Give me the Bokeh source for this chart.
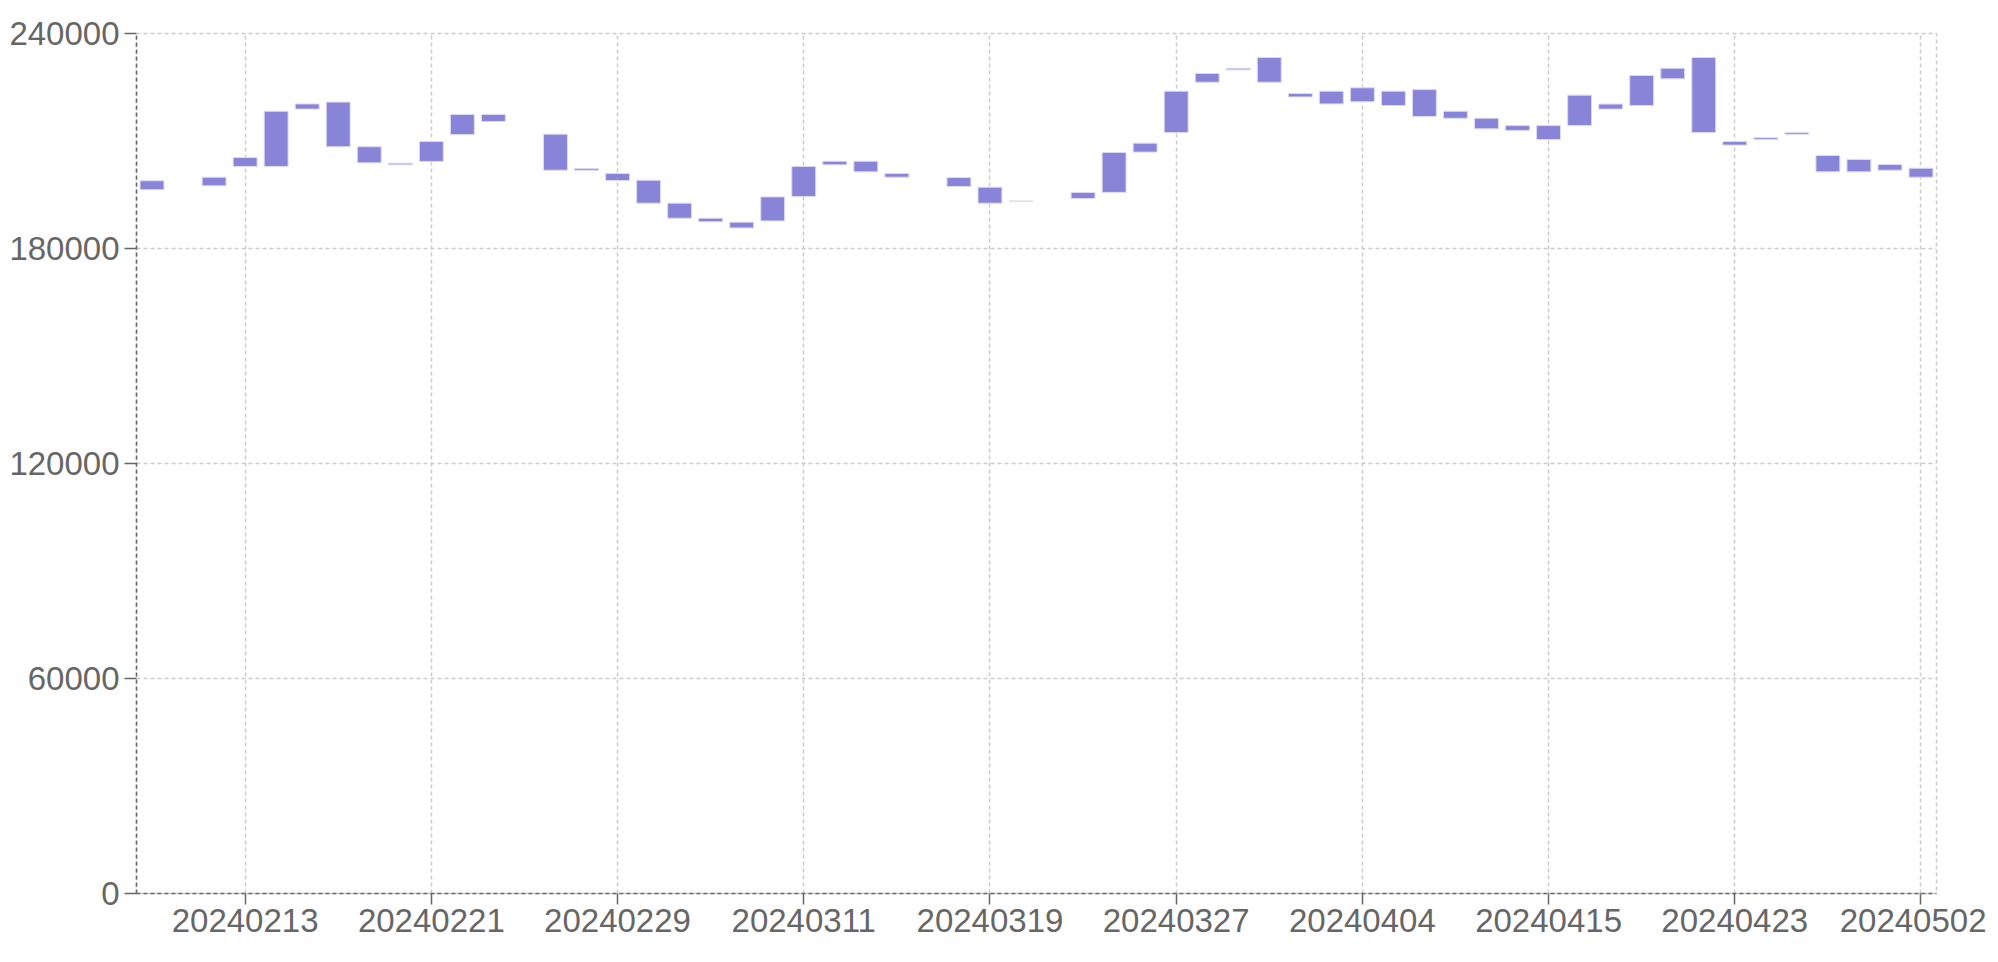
from bokeh.plotting import figure
from bokeh.models import Range1d, FixedTicker, ColumnDataSource
from bokeh.embed import file_html
from bokeh.resources import INLINE

# ---- data ----
dates = [
    "20240208", "20240209", "20240212", "20240213", "20240214", "20240215", "20240216",
    "20240219", "20240220", "20240221", "20240222", "20240223", "20240226", "20240227",
    "20240228", "20240229", "20240301", "20240305", "20240306", "20240307", "20240308",
    "20240311", "20240312", "20240313", "20240314", "20240315", "20240318", "20240319",
    "20240320", "20240321", "20240322", "20240325", "20240326", "20240327", "20240328",
    "20240329", "20240401", "20240402", "20240403", "20240404", "20240408", "20240409",
    "20240410", "20240411", "20240412", "20240415", "20240416", "20240417", "20240418",
    "20240419", "20240422", "20240423", "20240424", "20240425", "20240426", "20240429",
    "20240430", "20240502",
]

bar_low = [
    196400, None, 197500, 202900, 202900, 218900, 208400, 203900, 203350, 204300,
    211800, 215450, None, 201850, 201850, 198950, 192650, 188450, 187450, 185750,
    187700, 194500, 203350, 201400, 199900, None, 197300, 192650, 193200, None,
    193950, 195650, 206900, 212350, 226400, 229850, 226400, 222300, 220350, 220950,
    219900, 216850, 216350, 213400, 212950, 210400, 214300, 218900, 219900, 227350,
    212350, 208850, 210400, 211900, 201400, 201400, 201850, 199900,
]

bar_high = [
    198900, None, 199900, 205400, 218300, 220350, 220850, 208400, 203800, 209850,
    217400, 217400, None, 211900, 202300, 200950, 199050, 192650, 188450, 187350,
    194400, 202900, 204350, 204350, 200950, None, 199800, 197100, 193200, None,
    195650, 206800, 209400, 223900, 228850, 230300, 233300, 223250, 223900, 224850,
    223900, 224350, 218300, 216350, 214300, 214300, 222800, 220300, 228300, 230300,
    233300, 209850, 210900, 212350, 205950, 204850, 203450, 202400,
]

y_ticks = [0, 60000, 120000, 180000, 240000]
label_every = 6
label_start = 3

# ---- prepare ----
idx = [i for i in range(len(dates)) if bar_low[i] is not None]
src = ColumnDataSource(dict(
    x=idx,
    bottom=[bar_low[i] for i in idx],
    top=[bar_high[i] for i in idx],
))

tick_idx = list(range(label_start, len(dates), label_every))

p = figure(
    width=1986, height=950,
    frame_width=1800, frame_height=860,
    x_range=Range1d(-0.5, len(dates) - 0.5),
    y_range=Range1d(0, 240000),
    output_backend="svg", toolbar_location=None,
    min_border_left=136, min_border_top=33, min_border_right=50, min_border_bottom=50,
)

p.vbar(x="x", bottom="bottom", top="top", width=0.77, source=src,
       fill_color="#8884d8", line_color="#dcdaf3", line_width=1)

font = "Liberation Sans"
for ax in (p.xaxis[0], p.yaxis[0]):
    ax.axis_line_color = "#666666"
    ax.axis_line_dash = "4 3"
    ax.axis_line_width = 1.5
    ax.major_tick_line_color = "#666666"
    ax.major_tick_line_width = 1.5
    ax.major_tick_in = 0
    ax.minor_tick_line_color = None
    ax.major_label_text_font = font
    ax.major_label_text_font_size = "33px"
    ax.major_label_text_color = "#666666"

p.yaxis.ticker = FixedTicker(ticks=y_ticks)
p.yaxis.major_tick_out = 12
p.yaxis.major_label_standoff = 5
p.yaxis.formatter.use_scientific = False

p.xaxis.ticker = FixedTicker(ticks=tick_idx)
p.xaxis.major_label_overrides = {i: dates[i] for i in tick_idx}
p.xaxis.major_tick_out = 11
p.xaxis.major_label_standoff = 4

p.xgrid.ticker = FixedTicker(ticks=tick_idx)
p.ygrid.ticker = FixedTicker(ticks=y_ticks)
for g in (p.xgrid[0], p.ygrid[0]):
    g.grid_line_color = "#cccccc"
    g.grid_line_dash = "4 3"
    g.grid_line_width = 1.5

p.outline_line_color = "#cccccc"
p.outline_line_dash = "4 3"
p.outline_line_width = 1.5
p.background_fill_color = "white"
p.border_fill_color = "white"

open("out.html", "w").write(file_html(p, INLINE))
